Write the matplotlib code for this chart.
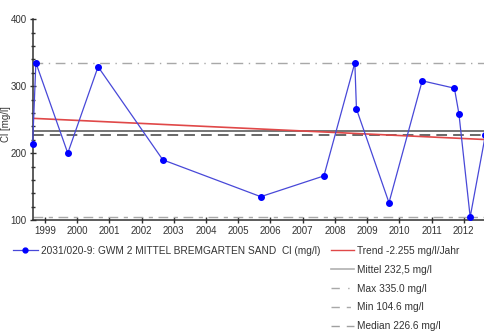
# Cl time series with trend and statistics lines

import numpy as np
import matplotlib.pyplot as plt
from matplotlib.lines import Line2D
from matplotlib.ticker import MultipleLocator

plt.rcParams['font.family'] = ['Liberation Sans', 'DejaVu Sans']

# data
years = [1998.62, 1998.72, 1999.71, 2000.65, 2002.66, 2005.70, 2007.66,
         2008.62, 2008.67, 2009.68, 2010.71, 2011.71, 2011.85, 2012.20, 2012.67]
cl = [214, 335, 200, 329, 190, 135, 166, 335, 266, 126, 308, 297, 259, 104.6, 226.6]

series_label = '2031/020-9: GWM 2 MITTEL BREMGARTEN SAND  Cl (mg/l)'
trend_slope = -2.255
trend_start = 252
mean_val = 232.5
max_val = 335.0
min_val = 104.6
median_val = 226.6
tick_years = list(range(1999, 2013))

fig = plt.figure(figsize=(4.85, 3.31), dpi=100)
ax = fig.add_axes([0.068, 0.335, 0.932, 0.607])

x0, x1 = 1998.63, 2012.66
ax.set_xlim(x0, x1)
ax.set_ylim(100, 400)

# statistics lines
ax.axhline(max_val, color='#a8a8a8', lw=1.0, dashes=(7, 4, 1, 4))
ax.axhline(min_val, color='#a8a8a8', lw=1.0, dashes=(7, 4, 3, 4))
ax.axhline(mean_val, color='#505050', lw=1.1)
ax.axhline(median_val, color='#404040', lw=1.1, dashes=(7, 4))

# trend
tx = np.array([years[0], years[-1]])
ty = trend_start + trend_slope * (tx - years[0])
ax.plot(tx, ty, color='#e04848', lw=1.2)

# series
ax.plot(years, cl, color='#4848d8', lw=0.9, marker='o', ms=4,
        mfc='#0000ff', mec='#0000ff', clip_on=False, zorder=5)

# axes styling
for s in ['top', 'right']:
    ax.spines[s].set_visible(False)
for s in ['left', 'bottom']:
    ax.spines[s].set_color('#303030')
    ax.spines[s].set_linewidth(1.1)

ax.set_xticks(tick_years)
ax.set_xticklabels([str(y) for y in tick_years])
ax.yaxis.set_major_locator(MultipleLocator(100))
ax.yaxis.set_minor_locator(MultipleLocator(20))
ax.tick_params(axis='both', direction='inout', length=5, width=1, colors='#303030',
               labelsize=7, labelcolor='#333333', pad=2)
ax.tick_params(axis='y', which='minor', direction='inout', length=3, width=1, colors='#303030')
ax.set_ylabel('Cl [mg/l]', fontsize=7, color='#333333')
ax.yaxis.set_label_coords(-0.048, 0.48)

# legends
h1 = [Line2D([], [], color='#4848d8', lw=0.9, marker='o', ms=3.5,
             mfc='#0000ff', mec='#0000ff')]
fig.legend(h1, [series_label], loc='upper left', bbox_to_anchor=(0.019, 0.27),
           frameon=False, fontsize=7.3, handlelength=2.4, handletextpad=0.35,
           borderaxespad=0, labelcolor='#333333')

h2 = [Line2D([], [], color='#e04848', lw=1.0),
      Line2D([], [], color='#b0b0b0', lw=1.2),
      Line2D([], [], color='#a8a8a8', lw=1.0, dashes=(6, 6, 1, 4)),
      Line2D([], [], color='#a8a8a8', lw=1.0, dashes=(6, 5, 3, 4)),
      Line2D([], [], color='#a0a0a0', lw=1.0, dashes=(6, 5))]
l2 = ['Trend -2.255 mg/l/Jahr', 'Mittel 232,5 mg/l', 'Max 335.0 mg/l',
      'Min 104.6 mg/l', 'Median 226.6 mg/l']
fig.legend(h2, l2, loc='upper left', bbox_to_anchor=(0.675, 0.269),
           frameon=False, fontsize=7.3, handlelength=2.2, handletextpad=0.35,
           labelspacing=0.87, borderaxespad=0, labelcolor='#333333')

fig.savefig('out.png', dpi=100)
